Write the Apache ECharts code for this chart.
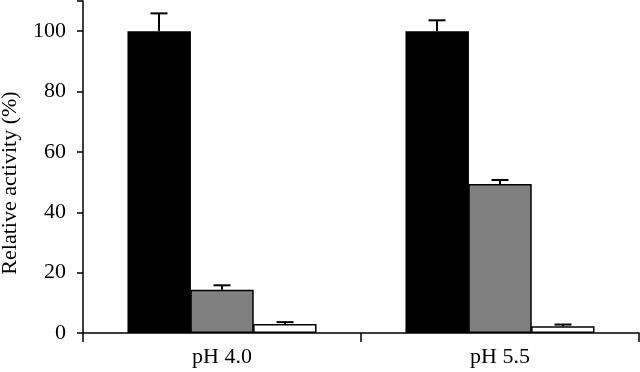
<!DOCTYPE html>
<html><head><meta charset="utf-8">
<script src="https://cdn.jsdelivr.net/npm/echarts@6/dist/echarts.min.js"></script>
<style>html,body{margin:0;padding:0;background:#fff}#c{width:640px;height:372px}</style>
</head><body><div id="c"></div>
<script>
const categories = ['pH 4.0', 'pH 5.5'];
const blackValues = [100, 100];
const blackErrors = [5.9, 3.6];
const grayValues = [14.3, 49.4];
const grayErrors = [1.5, 1.3];
const whiteValues = [3.0, 2.2];
const whiteErrors = [0.6, 0.6];
const yTicks = [0, 20, 40, 60, 80, 100];

const GAP = 0.32;
const font = 'Liberation Serif';
const seriesDefs = [
  {vals: blackValues, errs: blackErrors, color: '#000000'},
  {vals: grayValues, errs: grayErrors, color: '#808080'},
  {vals: whiteValues, errs: whiteErrors, color: '#ffffff'}
];

function errSeries(idx) {
  const d = seriesDefs[idx];
  return {
    type: 'custom',
    z: 5,
    data: d.vals.map((v, i) => [i, v, d.errs[i]]),
    renderItem: function (params, api) {
      const ci = api.value(0);
      const v = api.value(1);
      const e = api.value(2);
      const band = api.size([1, 0])[0];
      const bw = band * (1 - GAP) / 3;
      const c = api.coord([ci, v]);
      const x = c[0] + (idx - 1) * bw;
      const top = api.coord([ci, v + e])[1];
      const half = 8.5;
      const st = {stroke: '#000', lineWidth: 2};
      return {type: 'group', children: [
        {type: 'line', shape: {x1: x, y1: c[1], x2: x, y2: top}, style: st},
        {type: 'line', shape: {x1: x - half, y1: top, x2: x + half, y2: top}, style: st}
      ]};
    }
  };
}

const chart = echarts.init(document.getElementById('c'));
chart.setOption({
  animation: false,
  backgroundColor: '#fff',
  grid: {left: 83, right: 1, top: 1, bottom: 39, containLabel: false, outerBoundsMode: 'none'},
  xAxis: {
    type: 'category',
    data: categories,
    axisLine: {lineStyle: {color: '#000', width: 1.5}},
    axisTick: {show: true, length: 9, lineStyle: {color: '#000', width: 1.5}},
    axisLabel: {color: '#000', fontFamily: font, fontSize: 22, margin: 13}
  },
  yAxis: {
    type: 'value',
    min: 0, max: 110, interval: 20,
    name: 'Relative activity (%)',
    nameLocation: 'middle',
    nameGap: 62,
    nameTextStyle: {color: '#000', fontFamily: font, fontSize: 22, padding: [0, 0, 0, -32]},
    axisLine: {show: true, lineStyle: {color: '#000', width: 1.5}},
    axisTick: {show: true, length: 6, lineStyle: {color: '#000', width: 1.5}},
    splitLine: {show: false},
    axisLabel: {
      color: '#000', fontFamily: font, fontSize: 22, margin: 17,
      formatter: function (v) { return yTicks.indexOf(v) >= 0 ? String(v) : ''; }
    }
  },
  series: [
    ...seriesDefs.map(d => ({
      type: 'bar',
      data: d.vals,
      barGap: '-1%',
      barCategoryGap: (GAP * 100) + '%',
      itemStyle: {color: d.color, borderColor: '#000', borderWidth: 1.5}
    })),
    errSeries(0), errSeries(1), errSeries(2)
  ]
});
</script></body></html>
